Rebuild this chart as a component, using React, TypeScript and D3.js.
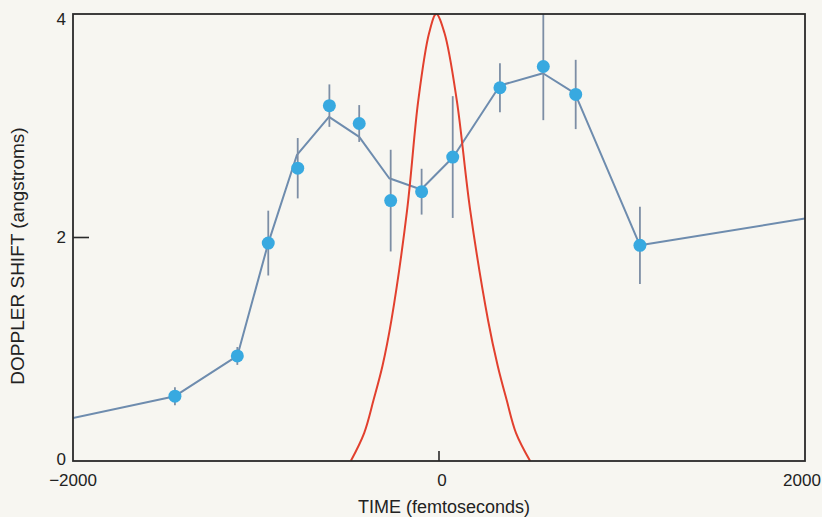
import React from "react";
import * as d3 from "d3";

// measured points (time in fs, Doppler shift in angstroms, +/- error)
const pointTimes = [-1443, -1102, -933, -772, -599, -436, -264, -95, 75, 333, 570, 747, 1098];
const pointShifts = [0.58, 0.94, 1.95, 2.62, 3.18, 3.02, 2.33, 2.41, 2.72, 3.34, 3.53, 3.28, 1.93];
const pointErrors = [0.08, 0.08, 0.29, 0.27, 0.19, 0.165, 0.455, 0.205, 0.545, 0.22, 0.48, 0.31, 0.345];

// connecting (fitted) line vertices
const fitTimes = [-2000, -1443, -1102, -933, -776, -601, -436, -272, -98, 78, 333, 568, 743, 1098, 2000];
const fitShifts = [0.385, 0.58, 0.94, 1.95, 2.74, 3.08, 2.9, 2.53, 2.43, 2.72, 3.36, 3.47, 3.29, 1.93, 2.17];

// pump pulse profile (red)
const pulseTimes = [-482, -409, -357, -309, -260, -174, -113, -54, -15, 30, 97, 170, 268, 321, 369, 421, 498];
const pulseShifts = [0, 0.25, 0.55, 0.85, 1.26, 2.25, 3.23, 3.83, 4.0, 3.83, 3.23, 2.25, 1.26, 0.85, 0.55, 0.25, 0];

const xTicks = [-2000, 0, 2000];
const xTickLabels = ["\u22122000", "0", "2000"];
const yTicks = [0, 2, 4];
const yTickLabels = ["0", "2", "4"];

const W = 822;
const H = 517;
const font = "'Liberation Sans', Arial, Helvetica, sans-serif";

export default function App() {
  const x = d3.scaleLinear().domain([-2000, 2000]).range([73, 805]);
  const y = d3.scaleLinear().domain([0, 4]).range([461, 14]);

  const fitLine = d3
    .line<number>()
    .x((_, i) => x(fitTimes[i]))
    .y((d) => y(d));

  const pulseLine = d3
    .line<number>()
    .x((_, i) => x(pulseTimes[i]))
    .y((d) => y(d))
    .curve(d3.curveCatmullRom.alpha(0.5));

  const [x0, x1] = x.range();
  const [y0, y1] = y.range();

  return (
    <svg
      width={W}
      height={H}
      style={{ position: "absolute", left: 0, top: 0, background: "#f7f6f1" }}
    >
      <defs>
        <clipPath id="plot">
          <rect x={x0} y={y1} width={x1 - x0} height={y0 - y1} />
        </clipPath>
      </defs>
      <rect x={0} y={0} width={W} height={H} fill="#f7f6f1" />

      {/* y tick labels */}
      {yTicks.map((t, i) => (
        <text
          key={"y" + t}
          x={x0 - 7}
          y={y(t) + (t === 4 ? 5 : t === 0 ? -2 : 0)}
          dy="0.35em"
          textAnchor="end"
          fontFamily={font}
          fontSize={17}
          fill="#222"
        >
          {yTickLabels[i]}
        </text>
      ))}

      {/* x tick labels */}
      {xTicks.map((t, i) => (
        <text
          key={"x" + t}
          x={x(t) + (t === 0 ? 3 : t === 2000 ? -3 : 0)}
          y={y0 + 25}
          textAnchor="middle"
          fontFamily={font}
          fontSize={17}
          fill="#222"
        >
          {xTickLabels[i]}
        </text>
      ))}

      {/* axis titles */}
      <text
        x={444}
        y={H - 4}
        textAnchor="middle"
        fontFamily={font}
        fontSize={18}
        fill="#222"
      >
        TIME (femtoseconds)
      </text>
      <text
        transform={`translate(24,256) rotate(-90)`}
        textAnchor="middle"
        fontFamily={font}
        fontSize={19}
        fill="#222"
      >
        DOPPLER SHIFT (angstroms)
      </text>

      <g clipPath="url(#plot)">
        {/* connecting line */}
        <path
          d={fitLine(fitShifts) || ""}
          fill="none"
          stroke="#6e8cae"
          strokeWidth={2}
          strokeLinejoin="round"
        />

        {/* error bars */}
        {pointTimes.map((t, i) => (
          <line
            key={"e" + i}
            x1={x(t)}
            x2={x(t)}
            y1={y(pointShifts[i] + pointErrors[i])}
            y2={y(pointShifts[i] - pointErrors[i])}
            stroke="#7d8ea5"
            strokeWidth={1.8}
          />
        ))}

        {/* pulse */}
        <path
          d={pulseLine(pulseShifts) || ""}
          fill="none"
          stroke="#e2402e"
          strokeWidth={2}
        />

        {/* markers */}
        {pointTimes.map((t, i) => (
          <circle key={"p" + i} cx={x(t)} cy={y(pointShifts[i])} r={6.5} fill="#38a9e0" />
        ))}
      </g>

      {/* frame */}
      <rect
        x={x0}
        y={y1}
        width={x1 - x0}
        height={y0 - y1}
        fill="none"
        stroke="#2a2a2a"
        strokeWidth={1.8}
      />

      {/* inner ticks */}
      <line x1={x0} x2={x0 + 16} y1={y(2)} y2={y(2)} stroke="#2a2a2a" strokeWidth={1.6} />
      <line x1={x(0)} x2={x(0)} y1={y0} y2={y0 - 10} stroke="#2a2a2a" strokeWidth={1.6} />
    </svg>
  );
}
